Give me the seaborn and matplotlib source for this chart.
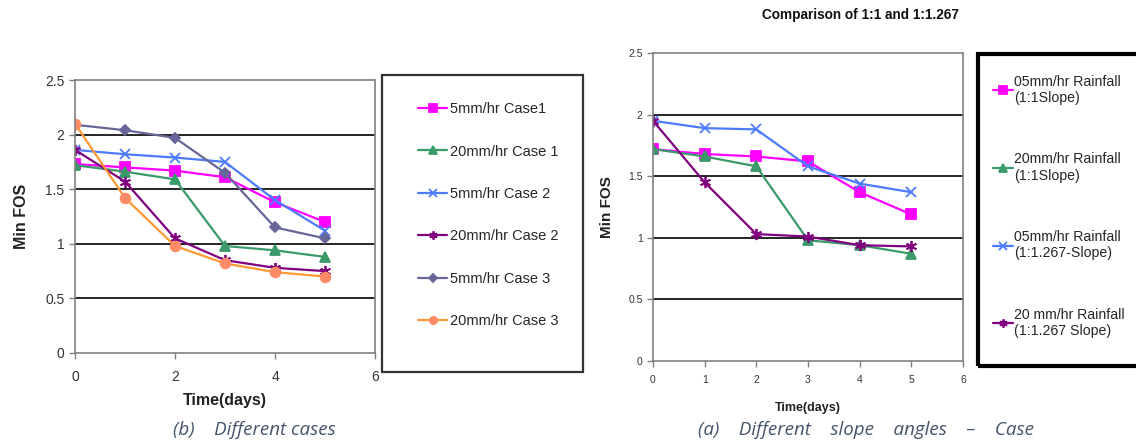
import numpy as np
import pandas as pd
import seaborn as sns
import matplotlib.pyplot as plt
from matplotlib.patches import Rectangle

# data
days = [0, 1, 2, 3, 4, 5]

# (b) different cases
case_labels = ["5mm/hr Case1", "20mm/hr Case 1", "5mm/hr Case 2",
               "20mm/hr Case 2", "5mm/hr Case 3", "20mm/hr Case 3"]
r5_case1 = [1.73, 1.70, 1.67, 1.61, 1.38, 1.20]
r20_case1 = [1.72, 1.66, 1.59, 0.98, 0.94, 0.88]
r5_case2 = [1.86, 1.82, 1.79, 1.75, 1.40, 1.12]
r20_case2 = [1.86, 1.57, 1.05, 0.85, 0.78, 0.75]
r5_case3 = [2.09, 2.04, 1.97, 1.65, 1.15, 1.05]
r20_case3 = [2.10, 1.42, 0.98, 0.82, 0.74, 0.70]

# (a) different slope angles
slope_labels = ["05mm/hr Rainfall\n(1:1Slope)", "20mm/hr Rainfall\n(1:1Slope)",
                "05mm/hr Rainfall\n(1:1.267-Slope)", "20 mm/hr Rainfall\n(1:1.267 Slope)"]
r5_s1 = [1.72, 1.68, 1.66, 1.62, 1.37, 1.19]
r20_s1 = [1.72, 1.66, 1.58, 0.98, 0.94, 0.87]
r5_s1267 = [1.95, 1.89, 1.88, 1.58, 1.44, 1.37]
r20_s1267 = [1.95, 1.45, 1.03, 1.01, 0.94, 0.93]

y_ticks = [0, 0.5, 1, 1.5, 2, 2.5]

sns.set_style("white")
plt.rcParams['font.family'] = ['Liberation Sans', 'DejaVu Sans']

MAGENTA = "#FF00FF"
GREEN = "#3A9A6A"
BLUE = "#4D7BFF"
PURPLE = "#800080"
SLATE = "#666699"
ORANGE = "#FF9933"
CORAL = "#FF8C66"
ASTER = (6, 2, 0)

case_styles = [
    (MAGENTA, 's', MAGENTA, 7),
    (GREEN, '^', GREEN, 7),
    (BLUE, 'x', BLUE, 7),
    (PURPLE, ASTER, PURPLE, 8),
    (SLATE, 'D', SLATE, 5.5),
    (ORANGE, 'o', CORAL, 7),
]
slope_styles = [
    (MAGENTA, 's', MAGENTA, 7),
    (GREEN, '^', GREEN, 7),
    (BLUE, 'x', BLUE, 7),
    (PURPLE, ASTER, PURPLE, 8),
]

fig = plt.figure(figsize=(11.36, 4.45), dpi=100)


def style_axes(ax, tick_size, pad):
    ax.set_xlim(0, 6)
    ax.set_ylim(0, 2.5)
    ax.set_yticks(y_ticks)
    ax.set_yticklabels(["0", "0.5", "1", "1.5", "2", "2.5"])
    ax.set_xticks(range(0, 7, 1 if tick_size < 9 else 2))
    for y in [0.5, 1, 1.5, 2]:
        ax.axhline(y, color="black", lw=1.2, zorder=0)
    for s in ax.spines.values():
        s.set_color("#808080")
        s.set_linewidth(1.2)
    ax.tick_params(axis="both", length=4, width=1, color="#808080",
                   labelsize=tick_size, labelcolor="#333333", direction="out")
    ax.tick_params(axis="x", pad=pad)
    ax.tick_params(left=True, bottom=True)


def draw(ax, series, labels, styles, lw):
    for vals, lab, (c, m, mc, ms) in zip(series, labels, styles):
        df = pd.DataFrame({"day": days, "fos": vals})
        sns.lineplot(data=df, x="day", y="fos", ax=ax, color=c, marker=m,
                     markersize=ms, markerfacecolor=mc, markeredgecolor=mc,
                     markeredgewidth=1.3, linewidth=lw, label=lab)


# left chart (b)
ax1 = fig.add_axes([75 / 1136, 92 / 445, 300 / 1136, 273 / 445])
draw(ax1, [r5_case1, r20_case1, r5_case2, r20_case2, r5_case3, r20_case3],
     case_labels, case_styles, 1.6)
style_axes(ax1, 10, 8)
ax1.set_xlabel("Time(days)", fontsize=11.5, fontweight="bold", color="#222222", labelpad=7)
ax1.set_ylabel("Min FOS", fontsize=11.5, fontweight="bold", color="#222222", labelpad=12)
h1, l1 = ax1.get_legend_handles_labels()
ax1.get_legend().remove()
fig.patches.append(Rectangle((382 / 1136, 73 / 445), 201 / 1136, 297 / 445,
                             transform=fig.transFigure, fill=False,
                             edgecolor="#333333", lw=1.6))
fig.legend(h1, l1, loc="upper left", bbox_to_anchor=(405 / 1136, 1 - 89 / 445),
           frameon=False, fontsize=10.5, labelspacing=1.95, handlelength=2.0,
           handletextpad=0.2, markerscale=0.75)

# right chart (a)
ax2 = fig.add_axes([653 / 1136, 84 / 445, 310 / 1136, 308 / 445])
draw(ax2, [r5_s1, r20_s1, r5_s1267, r20_s1267], slope_labels, slope_styles, 1.6)
style_axes(ax2, 7.5, 6)
ax2.set_xlabel("Time(days)", fontsize=9, fontweight="bold", color="#222222", labelpad=12)
ax2.set_ylabel("Min FOS", fontsize=11, fontweight="bold", color="#222222", labelpad=10)
h2, l2 = ax2.get_legend_handles_labels()
ax2.get_legend().remove()
fig.patches.append(Rectangle((978 / 1136, 79 / 445), 0.2, 312 / 445,
                             transform=fig.transFigure, fill=False,
                             edgecolor="black", lw=3))
fig.legend(h2, l2, loc="upper left", bbox_to_anchor=(980 / 1136, 1 - 62 / 445),
           frameon=False, fontsize=10.2, labelspacing=3.35, handlelength=1.4,
           handletextpad=0.1, markerscale=0.75)

fig.text(860 / 1136, 1 - 15 / 445, "Comparison of 1:1 and 1:1.267", ha="center",
         va="center", fontsize=9.8, fontweight="bold", color="#111111")

cap_color = "#44546A"
fig.text(173 / 1136, 1 - 430 / 445, "(b)    Different cases", ha="left", va="center",
         fontsize=13.5, style="italic", color=cap_color, family=["Open Sans", "DejaVu Sans"])
fig.text(698 / 1136, 1 - 430 / 445, "(a)    Different    slope    angles    \u2013    Case", ha="left",
         va="center", fontsize=13.5, style="italic", color=cap_color,
         family=["Open Sans", "DejaVu Sans"])

fig.savefig("out.png", dpi=100)
